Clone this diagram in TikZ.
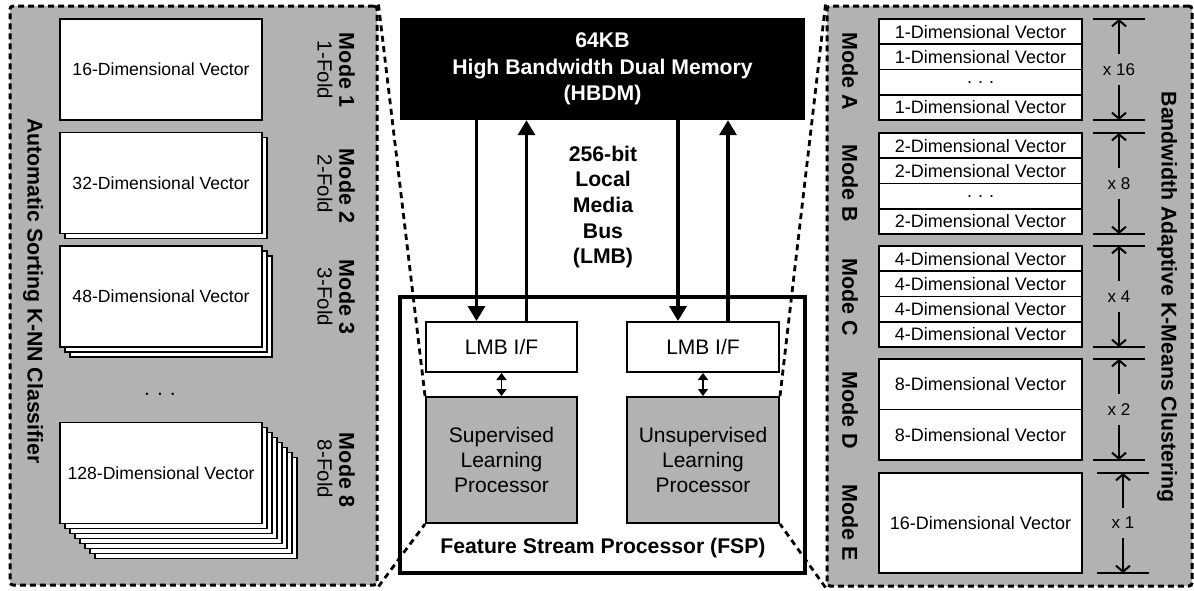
\documentclass[tikz,border=0pt]{standalone}
\usepackage{fontspec}
\setmainfont{Liberation Sans}
\usetikzlibrary{arrows.meta,calc}
\definecolor{panelgray}{RGB}{178,178,178}

\begin{document}
\begin{tikzpicture}[x=1pt,y=-1pt,
  panel/.style={draw, fill=panelgray, line width=3pt, dash pattern=on 6pt off 4pt,
    rounded corners=3pt, inner sep=0pt},
  zoomline/.style={line width=2.8pt, dash pattern=on 6pt off 4.5pt},
  card/.style={draw, fill=white, line width=1.8pt, minimum width=202pt,
    minimum height=101pt, inner sep=0pt, font=\fontsize{17.6}{20}\selectfont},
  vrow/.style={draw, fill=white, line width=1.8pt, minimum width=203pt,
    inner sep=0pt, font=\fontsize{18}{20}\selectfont},
  modelbl/.style={rotate=-90, font=\bfseries\fontsize{21.5}{24}\selectfont},
  foldlbl/.style={rotate=-90, font=\fontsize{20.5}{24}\selectfont},
  paneltitle/.style={rotate=-90, font=\bfseries\fontsize{21.3}{24}\selectfont},
  boldtxt/.style={font=\bfseries\fontsize{21.2}{25.7}\selectfont, align=center},
  plaintxt/.style={font=\fontsize{21}{25}\selectfont, align=center},
  ifbox/.style={draw, fill=white, line width=2pt, minimum height=50pt, inner sep=0pt,
    font=\fontsize{21}{25}\selectfont},
  procbox/.style={draw, fill=panelgray, line width=2pt, minimum height=126pt,
    inner sep=0pt, align=center, font=\fontsize{21}{25}\selectfont},
  bus/.style={line width=3.5pt, -{Triangle[width=17pt,length=15pt]}},
  link/.style={line width=1.5pt, {Triangle[width=10pt,length=7pt]}-{Triangle[width=10pt,length=7pt]}},
  dimtick/.style={line width=2pt},
  dimarrow/.style={line width=2pt, -{Straight Barb[width=14pt,length=6pt]}},
  dimlbl/.style={font=\fontsize{17}{20}\selectfont, minimum height=30pt, inner sep=0pt}
]
\useasboundingbox (0,0) rectangle (1194,590);

% ---------------- left panel: K-NN classifier ----------------
\node[panel, minimum width=367pt, minimum height=579pt] (knn) at (193.5,295.5) {};

\node[card] (c1) at (161,69.5) {16-Dimensional Vector};

\node[card] (c2-1) at (166,188) {};
\node[card] (c2) at (161,183) {32-Dimensional Vector};

\foreach \k in {2,1}
  \node[card] (c3-\k) at ({161+5*\k},{296.5+5*\k}) {};
\node[card] (c3) at (161,296.5) {48-Dimensional Vector};

\node[plaintxt] (ldots) at (160,394) {.\,\,.\,\,.};

\foreach \k in {7,6,...,1}
  \node[card] (c8-\k) at ({161+5*\k},{473+5*\k}) {};
\node[card] (c8) at (161,473) {128-Dimensional Vector};

\node[modelbl] (m1) at (347,70) {Mode 1};
\node[foldlbl] (f1) at (325,70) {1-Fold};
\node[modelbl] (m2) at (347,186) {Mode 2};
\node[foldlbl] (f2) at (325,184) {2-Fold};
\node[modelbl] (m3) at (347,297) {Mode 3};
\node[foldlbl] (f3) at (325,297) {3-Fold};
\node[modelbl] (m8) at (347,470) {Mode 8};
\node[foldlbl] (f8) at (325,469) {8-Fold};

\node[paneltitle] (knntitle) at (33,291) {Automatic Sorting K-NN Classifier};

% ---------------- right panel: K-means clustering ----------------
\node[panel, minimum width=365pt, minimum height=580pt] (kmeans) at (1009.5,296) {};

% Mode A: sixteen 1-D vectors
\node[vrow, minimum height=25.25pt] (a1) at (980.5,31.6) {1-Dimensional Vector};
\node[vrow, minimum height=25.25pt] (a2) at (980.5,56.9) {1-Dimensional Vector};
\node[vrow, minimum height=25.25pt] (a3) at (980.5,82.1) {.\,\,.\,\,.};
\node[vrow, minimum height=25.25pt] (a4) at (980.5,107.4) {1-Dimensional Vector};
% Mode B: eight 2-D vectors
\node[vrow, minimum height=25.25pt] (b1) at (980.5,145.6) {2-Dimensional Vector};
\node[vrow, minimum height=25.25pt] (b2) at (980.5,170.9) {2-Dimensional Vector};
\node[vrow, minimum height=25.25pt] (b3) at (980.5,196.1) {.\,\,.\,\,.};
\node[vrow, minimum height=25.25pt] (b4) at (980.5,221.4) {2-Dimensional Vector};
% Mode C: four 4-D vectors
\node[vrow, minimum height=25.25pt] (cc1) at (980.5,258.6) {4-Dimensional Vector};
\node[vrow, minimum height=25.25pt] (cc2) at (980.5,283.9) {4-Dimensional Vector};
\node[vrow, minimum height=25.25pt] (cc3) at (980.5,309.1) {4-Dimensional Vector};
\node[vrow, minimum height=25.25pt] (cc4) at (980.5,334.4) {4-Dimensional Vector};
% Mode D: two 8-D vectors
\node[vrow, minimum height=50.5pt] (d1) at (980.5,384.25) {8-Dimensional Vector};
\node[vrow, minimum height=50.5pt] (d2) at (980.5,434.75) {8-Dimensional Vector};
% Mode E: one 16-D vector
\node[vrow, minimum height=100pt] (e1) at (980.5,523) {16-Dimensional Vector};

\node[modelbl] (ma) at (850,71) {Mode A};
\node[modelbl] (mb) at (850,183) {Mode B};
\node[modelbl] (mc) at (850,297) {Mode C};
\node[modelbl] (md) at (850,410) {Mode D};
\node[modelbl] (me) at (850,523) {Mode E};

% repetition markers
\foreach \n/\t/\b/\x/\lbl in {A/19/120/1119/x 16, B/133/234/1119/x 8,
    C/246/347/1119/x 4, D/359/460/1119/x 2, E/473/573/1123/x 1} {
  \draw[dimtick] ({\x-26},\t) -- ({\x+26},\t);
  \draw[dimtick] ({\x-26},\b) -- ({\x+26},\b);
  \coordinate (top\n) at (\x,\t);
  \coordinate (bot\n) at (\x,\b);
  \node[dimlbl] (rep\n) at (\x,{(\t+\b)/2}) {\lbl};
  \draw[dimarrow] (rep\n) -- (top\n);
  \draw[dimarrow] (rep\n) -- (bot\n);
}

\node[paneltitle] (kmtitle) at (1167,297) {Bandwidth Adaptive K-Means Clustering};

% ---------------- centre: memory and feature stream processor ----------------
\node[draw, line width=3.5pt, minimum width=405pt, minimum height=276pt, inner sep=0pt]
  (fsp) at (602.5,435) {};
\node[boldtxt] (fsplbl) at (603,548) {Feature Stream Processor (FSP)};

\node[fill=black, text=white, minimum width=405pt, minimum height=102pt, inner sep=0pt,
  boldtxt, font=\bfseries\fontsize{21.2}{26.5}\selectfont]
  (hbdm) at (602.5,69) {64KB\\High Bandwidth Dual Memory\\(HBDM)};

\node[boldtxt] (lmb) at (603,207) {256-bit\\Local\\Media\\Bus\\(LMB)};

\node[ifbox, minimum width=151pt] (ifL) at (501.5,347) {LMB I/F};
\node[ifbox, minimum width=152pt] (ifR) at (703,347) {LMB I/F};

\node[procbox, minimum width=151pt] (sup) at (501.5,460) {Supervised\\Learning\\Processor};
\node[procbox, minimum width=152pt] (unsup) at (703,460) {Unsupervised\\Learning\\Processor};

\coordinate (dL) at ([xshift=-25pt]ifL.north);
\coordinate (uL) at ([xshift=25pt]ifL.north);
\coordinate (dR) at ([xshift=-25pt]ifR.north);
\coordinate (uR) at ([xshift=25pt]ifR.north);
\draw[bus] (dL |- hbdm.south) -- (dL);
\draw[bus] (uL) -- (uL |- hbdm.south);
\draw[bus] (dR |- hbdm.south) -- (dR);
\draw[bus] (uR) -- (uR |- hbdm.south);

\draw[link] (ifL.south) -- (sup.north);
\draw[link] (ifR.south) -- (unsup.north);

% magnification lines from the processors to the panels
\draw[zoomline] (knn.north east) -- (sup.north west);
\draw[zoomline] (knn.south east) -- (sup.south west);
\draw[zoomline] (kmeans.north west) -- (unsup.north east);
\draw[zoomline] (kmeans.south west) -- (unsup.south east);
\end{tikzpicture}
\end{document}
